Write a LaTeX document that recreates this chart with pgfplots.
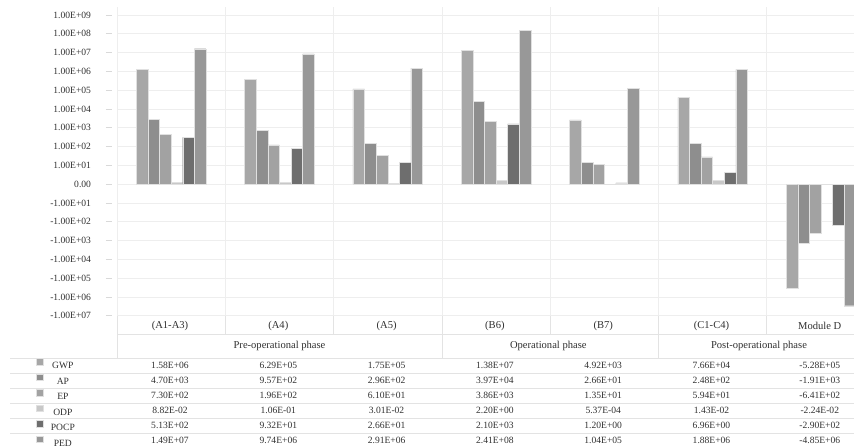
\documentclass[border=0pt]{standalone}
\usepackage{pgfplots}
\pgfplotsset{compat=1.18}
\usepackage{pgfplotstable}
\usepackage{fontspec}
\setmainfont{Liberation Serif}
\definecolor{cGWP}{HTML}{A7A7A7}
\definecolor{cAP}{HTML}{8E8E8E}
\definecolor{cEP}{HTML}{A2A2A2}
\definecolor{cODP}{HTML}{C8C8C8}
\definecolor{cPOCP}{HTML}{6E6E6E}
\definecolor{cPED}{HTML}{989898}
\definecolor{gridc}{HTML}{EEEEEE}
\definecolor{tabc}{HTML}{E3E3E3}
\definecolor{txt}{HTML}{303030}

% bar heights on the chart's signed logarithmic scale
\pgfplotstableread{
x GWP AP EP ODP POCP PED
0 6.11 3.44 2.65 0.09 2.49 7.20
1 5.59 2.87 2.09 0.08 1.89 6.93
2 5.07 2.17 1.52 0.05 1.14 6.17
3 7.13 4.41 3.33 0.21 3.21 8.19
4 3.42 1.15 1.06 0.00 0.07 5.11
5 4.61 2.18 1.45 0.21 0.61 6.10
6 -5.56 -3.16 -2.60 0.00 -2.18 -6.47
}\bars

\newcommand{\numfont}{\fontsize{9.6}{11}\selectfont}
\newcommand{\labfont}{\fontsize{10.6}{12}\selectfont}

\begin{document}
\begin{tikzpicture}
\begin{axis}[
  x=108.3bp, y=18.8bp,
  xmin=-0.5, xmax=6.305, ymin=-7, ymax=9.43,
  ybar=0pt, bar width=0.107,
  axis line style={draw=none},
  xtick={-0.5,0.5,1.5,2.5,3.5,4.5,5.5,6.5}, xticklabels={}, xmajorgrids,
  x tick style={draw=none},
  ytick={-7,-6,-5,-4,-3,-2,-1,0,1,2,3,4,5,6,7,8,9},
  yticklabels={-1.00E+07,-1.00E+06,-1.00E+05,-1.00E+04,-1.00E+03,-1.00E+02,-1.00E+01,0.00,1.00E+01,1.00E+02,1.00E+03,1.00E+04,1.00E+05,1.00E+06,1.00E+07,1.00E+08,1.00E+09},
  ymajorgrids, ytick pos=left,
  grid style={gridc, line width=0.7bp},
  tick align=outside, major tick length=6bp,
  y tick style={draw=gray!30, line width=0.7bp, xshift=-5bp},
  yticklabel style={font=\numfont, text=txt, anchor=east, xshift=-16.5bp},
  clip=false,
  legend cell align=center,
  legend style={at={(axis description cs:-0.1099,-0.1385)}, anchor=north west,
    draw=none, fill=none, inner sep=0pt, outer sep=0pt, row sep=0.6bp, column sep=8bp,
    font=\numfont, text=txt,
    nodes={inner sep=0pt, minimum height=14.4bp}},
  every axis plot/.append style={draw=white!88!black, line width=0.4bp},
]
\pgfplotsset{mykey/.style={legend image code/.code={\fill[##1] (0bp,1.3bp) rectangle (6.5bp,7.5bp);}}}
\addplot[fill=cGWP, mykey] table[x=x, y=GWP] {\bars};
\addplot[fill=cAP, mykey] table[x=x, y=AP] {\bars};
\addplot[fill=cEP, mykey] table[x=x, y=EP] {\bars};
\addplot[fill=cODP, mykey] table[x=x, y=ODP] {\bars};
\addplot[fill=cPOCP, mykey] table[x=x, y=POCP] {\bars};
\addplot[fill=cPED, mykey] table[x=x, y=PED] {\bars};
\legend{GWP,AP,EP,ODP,POCP,PED}
\end{axis}

% data table below the plot (plot area's lower left corner is the origin, in bp)
\begin{scope}[tabc, line width=0.7bp]
  \draw (0bp,-18.6bp) -- (737bp,-18.6bp);
  \foreach \k in {0,...,5} {\draw (-107bp,{(-42.5-15*\k)*1bp}) -- (737bp,{(-42.5-15*\k)*1bp});}
  \foreach \i in {1,2,4,6} {\draw ({108.3*\i*1bp},0bp) -- ({108.3*\i*1bp},-18.6bp);}
  \foreach \i in {0,3,5} {\draw ({108.3*\i*1bp},0bp) -- ({108.3*\i*1bp},-42.5bp);}
\end{scope}

\begin{scope}[every node/.style={text=txt, inner sep=0pt, anchor=center}]
  \foreach \lab [count=\i from 0] in {(A1-A3),(A4),(A5),(B6),(B7),(C1-C4),Module D}
    {\node[font=\labfont] at ({(53+108.3*\i)*1bp},-10bp) {\lab};}
  \node[font=\labfont] at (162.5bp,-30bp) {Pre-operational phase};
  \node[font=\labfont] at (431.3bp,-30bp) {Operational phase};
  \node[font=\labfont] at (642bp,-30bp) {Post-operational phase};
  \foreach \vals [count=\r from 0] in {
    {1.58E+06,6.29E+05,1.75E+05,1.38E+07,4.92E+03,7.66E+04,-5.28E+05},
    {4.70E+03,9.57E+02,2.96E+02,3.97E+04,2.66E+01,2.48E+02,-1.91E+03},
    {7.30E+02,1.96E+02,6.10E+01,3.86E+03,1.35E+01,5.94E+01,-6.41E+02},
    {8.82E-02,1.06E-01,3.01E-02,2.20E+00,5.37E-04,1.43E-02,-2.24E-02},
    {5.13E+02,9.32E+01,2.66E+01,2.10E+03,1.20E+00,6.96E+00,-2.90E+02},
    {1.49E+07,9.74E+06,2.91E+06,2.41E+08,1.04E+05,1.88E+06,-4.85E+06}}
  {
    \foreach \v [count=\c from 0] in \vals
      {\node[font=\numfont] at ({(53+108.3*\c)*1bp},{(-50-15*\r)*1bp}) {\v};}
  }
\end{scope}

\pgfresetboundingbox
\useasboundingbox (-117bp,-132.3bp) rectangle (737bp,315.7bp);
\end{tikzpicture}
\end{document}
